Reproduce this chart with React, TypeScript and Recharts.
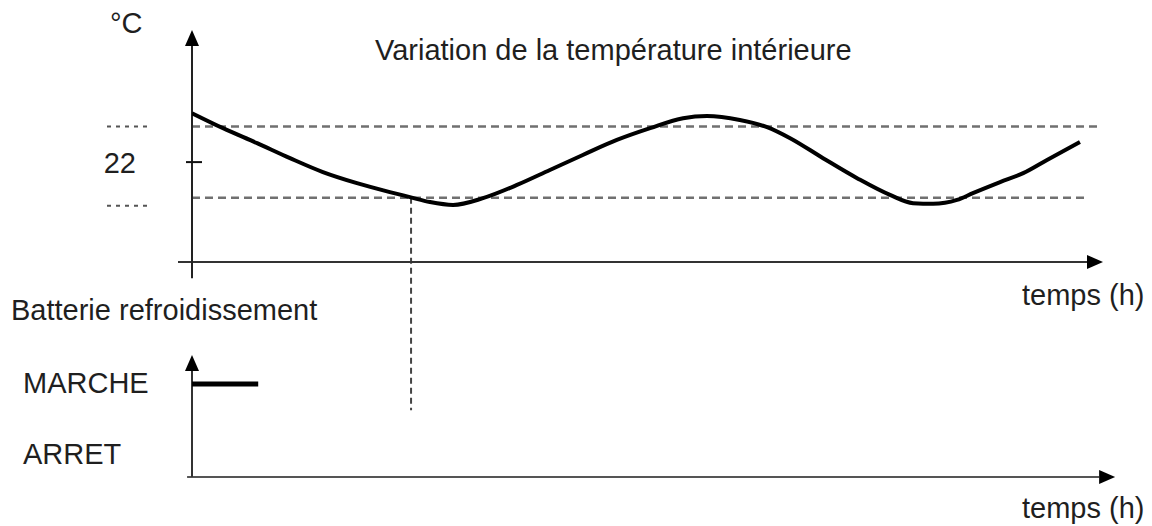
import React from "react";
import { ComposedChart, Line, XAxis, YAxis, ReferenceLine } from "recharts";

// indoor temperature curve
const hours = [0, 0.82, 1.72, 2.59, 3.46, 4.36, 5.23, 5.76, 6.29, 6.9, 7.69, 8.59, 9.46, 10.33, 11.23, 12.11, 12.98, 13.61, 14.48, 15.2, 15.81, 16.68, 17.58, 18.45, 19.06, 19.59, 20.22, 20.64, 21.36, 21.97, 22.6, 23.47];
const temperature = [23.37, 22.95, 22.53, 22.11, 21.72, 21.41, 21.16, 21.02, 20.88, 20.8, 20.99, 21.36, 21.78, 22.2, 22.62, 22.95, 23.23, 23.29, 23.18, 22.98, 22.67, 22.11, 21.55, 21.08, 20.85, 20.83, 20.94, 21.13, 21.44, 21.69, 22.06, 22.56];

// cooling coil state (1 = MARCHE, 0 = ARRET)
const batteryHours = [0, 1.75];
const batteryState = [1, 1];
const stateLabels = ["ARRET", "MARCHE"];

const setpoint = 22;
const highLimit = 23;
const lowLimit = 21;
const switchTime = 5.79;

const tempTicks = [lowLimit, setpoint, highLimit];

const tempData = hours.map((t, i) => ({ t, temp: temperature[i] }));
const batteryData = batteryHours.map((t, i) => ({ t, state: batteryState[i] }));

const FONT = "'Liberation Sans', Arial, Helvetica, sans-serif";
const TEXT = "#1f1f1f";
const FS = 29;

const arrowShape = (color: string, width: number) => (p: any) => {
  const { x1, y1, x2, y2 } = p;
  const dx = x2 - x1;
  const dy = y2 - y1;
  const len = Math.sqrt(dx * dx + dy * dy) || 1;
  const ux = dx / len;
  const uy = dy / len;
  const bx = x2 - ux * 16;
  const by = y2 - uy * 16;
  const px = -uy * 7;
  const py = ux * 7;
  return (
    <g>
      <line x1={x1} y1={y1} x2={bx} y2={by} stroke={color} strokeWidth={width} />
      <polygon points={`${x2},${y2} ${bx + px},${by + py} ${bx - px},${by - py}`} fill="#000" />
    </g>
  );
};

const TempTick = (props: any) => {
  const { y, payload } = props;
  if (payload.value === setpoint) {
    return (
      <g>
        <line x1={186} x2={202} y1={y} y2={y} stroke="#111" strokeWidth={2} />
        <text x={136} y={y + 11} textAnchor="end" fontFamily={FONT} fontSize={FS} fill={TEXT}>
          {payload.value}
        </text>
      </g>
    );
  }
  // the lower dotted mark sits a little under its dashed line in the original
  const dy = payload.value === lowLimit ? 8 : 0;
  return <line x1={107} x2={149} y1={y + dy} y2={y + dy} stroke="#555" strokeWidth={2} strokeDasharray="4 5" />;
};

const StateTick = (props: any) => {
  const { y, payload } = props;
  return (
    <text x={23} y={y + 9} textAnchor="start" fontFamily={FONT} fontSize={FS} fill={TEXT}>
      {stateLabels[payload.value]}
    </text>
  );
};

export default function App() {
  return (
    <div style={{ position: "absolute", left: 0, top: 0, width: 1152, height: 526, background: "#fff" }}>
      <ComposedChart width={1152} height={526} margin={{ top: 30, right: 52, bottom: 49, left: 72 }}>
        <XAxis xAxisId="t" type="number" dataKey="t" domain={[0, 24]} allowDataOverflow hide />
        <YAxis
          yAxisId="temp"
          type="number"
          domain={[13.18, 25.7]}
          allowDataOverflow
          ticks={tempTicks}
          interval={0}
          axisLine={false}
          tickLine={false}
          tick={<TempTick />}
          width={60}
        />
        <YAxis
          yAxisId="state"
          type="number"
          domain={[-0.31, 5.99]}
          allowDataOverflow
          ticks={[0, 1]}
          interval={0}
          axisLine={false}
          tickLine={false}
          tick={<StateTick />}
          width={60}
        />

        {/* limits */}
        <ReferenceLine
          xAxisId="t"
          yAxisId="temp"
          ifOverflow="visible"
          segment={[{ x: 0, y: highLimit }, { x: 23.95, y: highLimit }]}
          stroke="#707070"
          strokeWidth={2.5}
          strokeDasharray="8 5"
        />
        <ReferenceLine
          xAxisId="t"
          yAxisId="temp"
          ifOverflow="visible"
          segment={[{ x: 0, y: lowLimit }, { x: 23.6, y: lowLimit }]}
          stroke="#707070"
          strokeWidth={2.5}
          strokeDasharray="8 5"
        />
        <ReferenceLine
          xAxisId="t"
          yAxisId="temp"
          ifOverflow="visible"
          segment={[{ x: switchTime, y: lowLimit }, { x: switchTime, y: 15.05 }]}
          stroke="#444"
          strokeWidth={2}
          strokeDasharray="6 4"
        />

        {/* axes with arrows */}
        <ReferenceLine
          xAxisId="t"
          yAxisId="temp"
          ifOverflow="visible"
          segment={[{ x: -0.37, y: 19.2 }, { x: 24.08, y: 19.2 }]}
          shape={arrowShape("#333", 2)}
        />
        <ReferenceLine
          xAxisId="t"
          yAxisId="temp"
          ifOverflow="visible"
          segment={[{ x: 0, y: 18.75 }, { x: 0, y: 25.7 }]}
          shape={arrowShape("#222", 2)}
        />
        <ReferenceLine
          xAxisId="t"
          yAxisId="state"
          ifOverflow="visible"
          segment={[{ x: -0.13, y: -0.31 }, { x: 24.4, y: -0.31 }]}
          shape={arrowShape("#555", 2)}
        />
        <ReferenceLine
          xAxisId="t"
          yAxisId="state"
          ifOverflow="visible"
          segment={[{ x: 0, y: -0.31 }, { x: 0, y: 1.41 }]}
          shape={arrowShape("#333", 2)}
        />

        <Line
          xAxisId="t"
          yAxisId="temp"
          data={tempData}
          dataKey="temp"
          type="monotone"
          stroke="#000"
          strokeWidth={4}
          dot={false}
          isAnimationActive={false}
        />
        <Line
          xAxisId="t"
          yAxisId="state"
          data={batteryData}
          dataKey="state"
          type="linear"
          stroke="#000"
          strokeWidth={5}
          dot={false}
          isAnimationActive={false}
        />

        <text x={110} y={33} fontFamily={FONT} fontSize={FS} fill={TEXT}>°C</text>
        <text x={375} y={60} fontFamily={FONT} fontSize={FS} fill={TEXT}>Variation de la température intérieure</text>
        <text x={11} y={320} fontFamily={FONT} fontSize={FS} fill={TEXT}>Batterie refroidissement</text>
        <text x={1022} y={305} fontFamily={FONT} fontSize={FS} fill={TEXT}>temps (h)</text>
        <text x={1022} y={518} fontFamily={FONT} fontSize={FS} fill={TEXT}>temps (h)</text>
      </ComposedChart>
    </div>
  );
}
